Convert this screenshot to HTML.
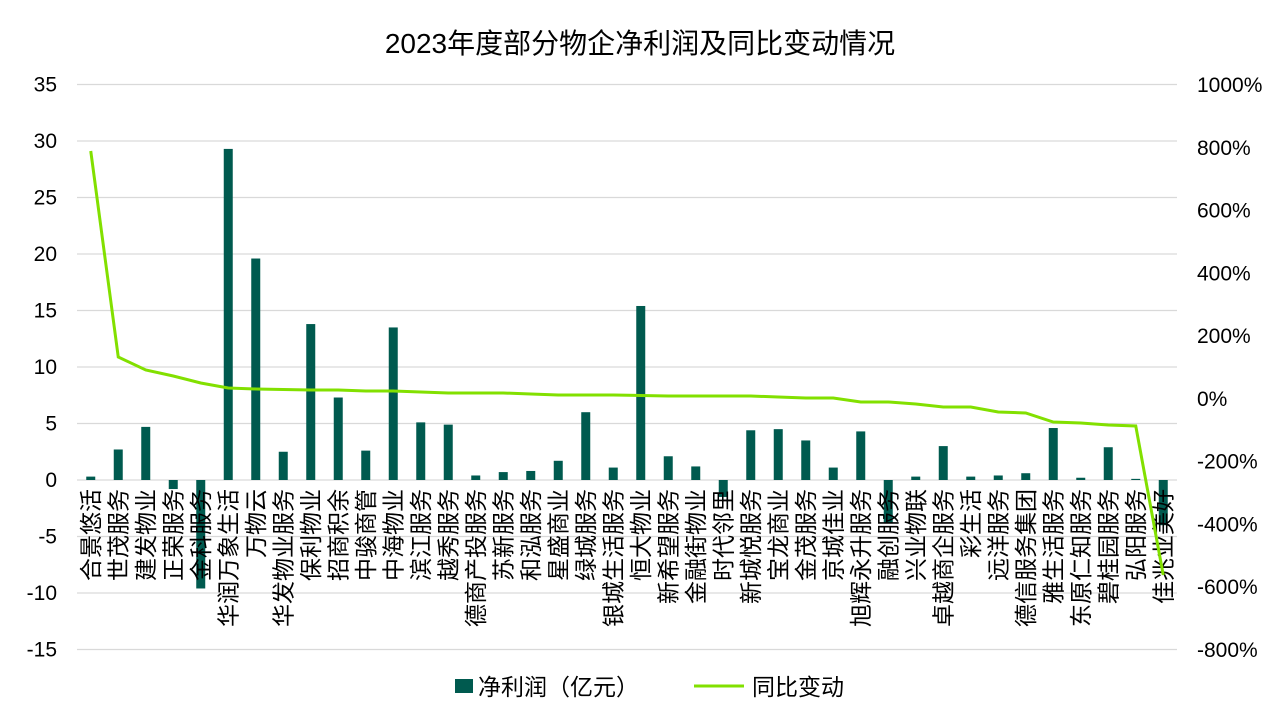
<!DOCTYPE html>
<html><head><meta charset="utf-8"><style>
html,body{margin:0;padding:0;background:#fff}
svg{display:block;font-family:"Liberation Sans","Noto Sans CJK SC",sans-serif}
</style></head><body>
<svg id="c" width="1280" height="720" xmlns="http://www.w3.org/2000/svg"></svg>
<script>
const s=document.getElementById('c');
const names=["合景悠活","世茂服务","建发物业","正荣服务","金科服务","华润万象生活","万物云","华发物业服务","保利物业","招商积余","中骏商管","中海物业","滨江服务","越秀服务","德商产投服务","苏新服务","和泓服务","星盛商业","绿城服务","银城生活服务","恒大物业","新希望服务","金融街物业","时代邻里","新城悦服务","宝龙商业","金茂服务","京城佳业","旭辉永升服务","融创服务","兴业物联","卓越商企服务","彩生活","远洋服务","德信服务集团","雅生活服务","东原仁知服务","碧桂园服务","弘阳服务","佳兆业美好"];
const v=[0.3,2.7,4.7,-0.8,-9.6,29.3,19.6,2.5,13.8,7.3,2.6,13.5,5.1,4.9,0.4,0.7,0.8,1.7,6.0,1.1,15.4,2.1,1.2,-1.5,4.4,4.5,3.5,1.1,4.3,-3.8,0.3,3.0,0.3,0.4,0.6,4.6,0.2,2.9,0.1,-4.0];
const ly=[151,357,370,376,383,388,389,389.5,390,390,391,391,392,393,393,393,394,395,395,395,395.5,396,396,396,396,397,398,398,402,402,404,407,407,412,413,422,423,425,426,575];
let h='<text x="640" y="53" font-size="28" text-anchor="middle" fill="#000">2023年度部分物企净利润及同比变动情况</text>';
const Y=u=>480-u*11.3;
for(let t=-15;t<=35;t+=5){const y=Y(t);h+=`<line x1="77" x2="1177" y1="${y}" y2="${y}" stroke="#d9d9d9" stroke-width="1.3"/>`;
h+=`<text x="57" y="${y+7}" font-size="21" text-anchor="end">${t}</text>`;}
for(let p=1000;p>=-800;p-=200){const y=85+(1000-p)*0.31389;h+=`<text x="1197" y="${y+7}" font-size="21">${p}%</text>`;}
const cx=i=>77+27.5*(i+0.5);
v.forEach((u,i)=>{const y=Y(Math.max(u,0)),hh=Math.abs(u)*11.3;h+=`<rect x="${cx(i)-4.5}" y="${y}" width="9" height="${hh}" fill="#005a4f"/>`;});
names.forEach((n,i)=>{h+=`<text transform="translate(${cx(i)+8},489) rotate(-90)" font-size="23" text-anchor="end">${n}</text>`;});
h+=`<polyline fill="none" stroke="#82e000" stroke-width="3" points="${ly.map((y,i)=>cx(i)+','+y).join(' ')}"/>`;
h+='<rect x="455" y="679" width="18" height="14" fill="#005a4f"/><text x="478" y="695" font-size="23">净利润（亿元）</text>';
h+='<line x1="694" x2="744" y1="686" y2="686" stroke="#82e000" stroke-width="3"/><text x="752" y="695" font-size="23">同比变动</text>';
s.innerHTML=h;
</script>
</body></html>
